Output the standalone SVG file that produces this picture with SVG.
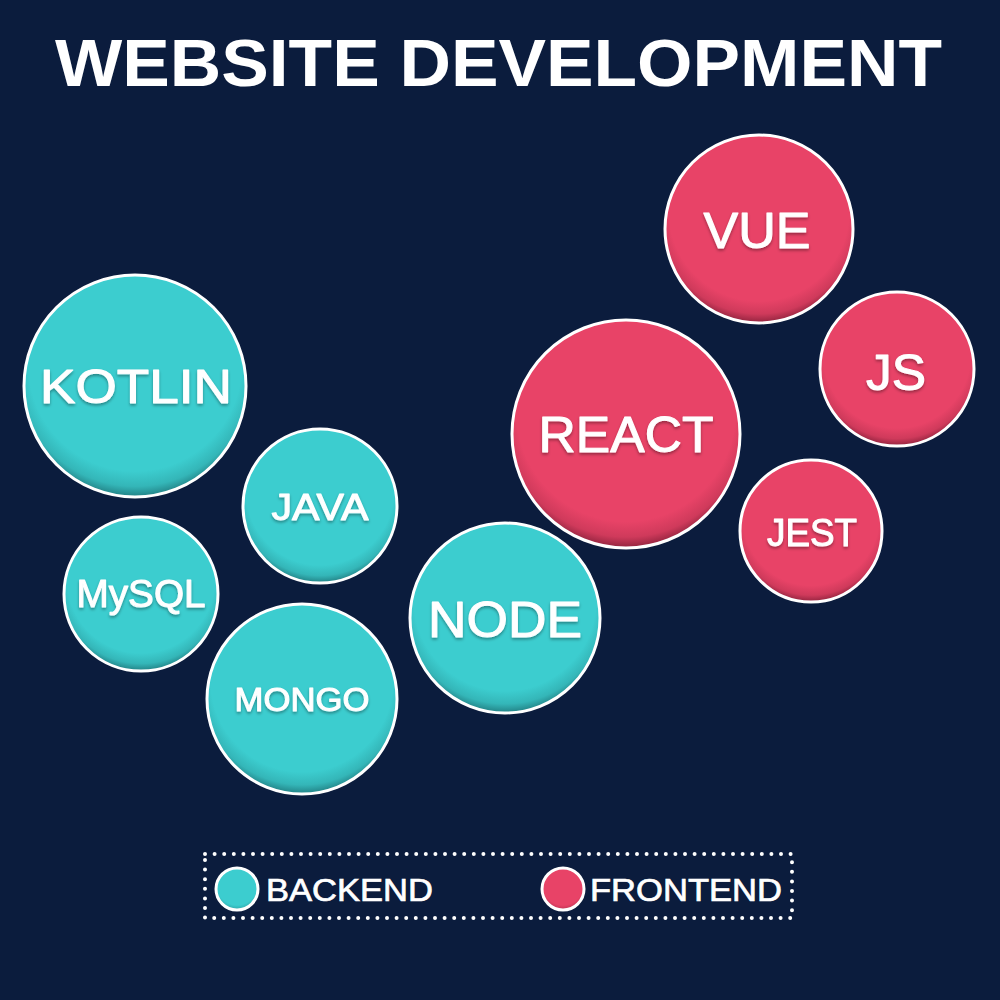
<svg xmlns="http://www.w3.org/2000/svg" width="1000" height="1000" viewBox="0 0 1000 1000">
<defs>
<radialGradient id="gTeal" cx="0.5" cy="0.42" r="0.6" fx="0.5" fy="0.34">
<stop offset="0.8" stop-color="#3ccdcf"/>
<stop offset="0.9" stop-color="#34b6b8"/>
<stop offset="1" stop-color="#1a6a6e"/>
</radialGradient>
<radialGradient id="gPink" cx="0.5" cy="0.42" r="0.6" fx="0.5" fy="0.34">
<stop offset="0.8" stop-color="#e84367"/>
<stop offset="0.9" stop-color="#cf3a5b"/>
<stop offset="1" stop-color="#771a32"/>
</radialGradient>
<filter id="ts" x="-10%" y="-20%" width="120%" height="150%">
<feDropShadow dx="0" dy="2" stdDeviation="1.5" flood-color="#000" flood-opacity="0.35"/>
</filter>
</defs>
<style>
.bg{fill:#0b1c3d}
.teal{fill:url(#gTeal);stroke:#fff;stroke-width:3}
.pink{fill:url(#gPink);stroke:#fff;stroke-width:3}
.lbl{font-family:"Liberation Sans",Arial,sans-serif;font-weight:normal;fill:#fff;stroke:#fff;stroke-width:1;stroke-linejoin:round;text-anchor:middle;filter:url(#ts)}
.title{font-family:"Liberation Sans",Arial,sans-serif;font-weight:bold;fill:#fff}
.leg{font-family:"Liberation Sans",Arial,sans-serif;fill:#fff;stroke:#fff;stroke-width:0.7;font-size:32px}
</style>
<rect class="bg" x="0" y="0" width="1000" height="1000"/>
<text class="title" x="55" y="86" font-size="67" textLength="887" lengthAdjust="spacingAndGlyphs">WEBSITE DEVELOPMENT</text>
<g id="connectors"></g>
<g id="vue"><circle class="pink" cx="759" cy="229" r="94"/><text class="lbl" x="757" y="248" font-size="50" textLength="107" lengthAdjust="spacingAndGlyphs">VUE</text></g>
<g id="js"><circle class="pink" cx="897" cy="369" r="77"/><text class="lbl" x="896" y="390" font-size="50" textLength="60" lengthAdjust="spacingAndGlyphs">JS</text></g>
<g id="react"><circle class="pink" cx="626" cy="434" r="114"/><text class="lbl" x="626" y="452" font-size="50" textLength="175" lengthAdjust="spacingAndGlyphs">REACT</text></g>
<g id="jest"><circle class="pink" cx="811" cy="531" r="71"/><text class="lbl" x="812" y="546" font-size="38" textLength="90" lengthAdjust="spacingAndGlyphs">JEST</text></g>
<g id="kotlin"><circle class="teal" cx="135" cy="386" r="111"/><text class="lbl" x="136" y="403" font-size="48" textLength="192" lengthAdjust="spacingAndGlyphs">KOTLIN</text></g>
<g id="java"><circle class="teal" cx="320" cy="506" r="77"/><text class="lbl" x="320" y="520" font-size="37" textLength="97" lengthAdjust="spacingAndGlyphs">JAVA</text></g>
<g id="mysql"><circle class="teal" cx="141" cy="594" r="77"/><text class="lbl" x="141" y="607" font-size="38" textLength="129" lengthAdjust="spacingAndGlyphs">MySQL</text></g>
<g id="mongo"><circle class="teal" cx="302" cy="699" r="95"/><text class="lbl" x="302" y="711" font-size="33" textLength="135" lengthAdjust="spacingAndGlyphs">MONGO</text></g>
<g id="node"><circle class="teal" cx="505" cy="618" r="95"/><text class="lbl" x="505" y="637" font-size="50" textLength="154" lengthAdjust="spacingAndGlyphs">NODE</text></g>
<g id="legend">
<rect x="205" y="854" width="587" height="64" fill="none" stroke="#fff" stroke-width="4" stroke-linecap="round" stroke-dasharray="0 9.6"/>
<circle class="teal" cx="237" cy="889" r="21" stroke-width="2"/>
<text class="leg" x="266" y="901" textLength="167" lengthAdjust="spacingAndGlyphs">BACKEND</text>
<circle class="pink" cx="563" cy="889" r="21" stroke-width="2"/>
<text class="leg" x="590" y="901" textLength="192" lengthAdjust="spacingAndGlyphs">FRONTEND</text>
</g>
</svg>
